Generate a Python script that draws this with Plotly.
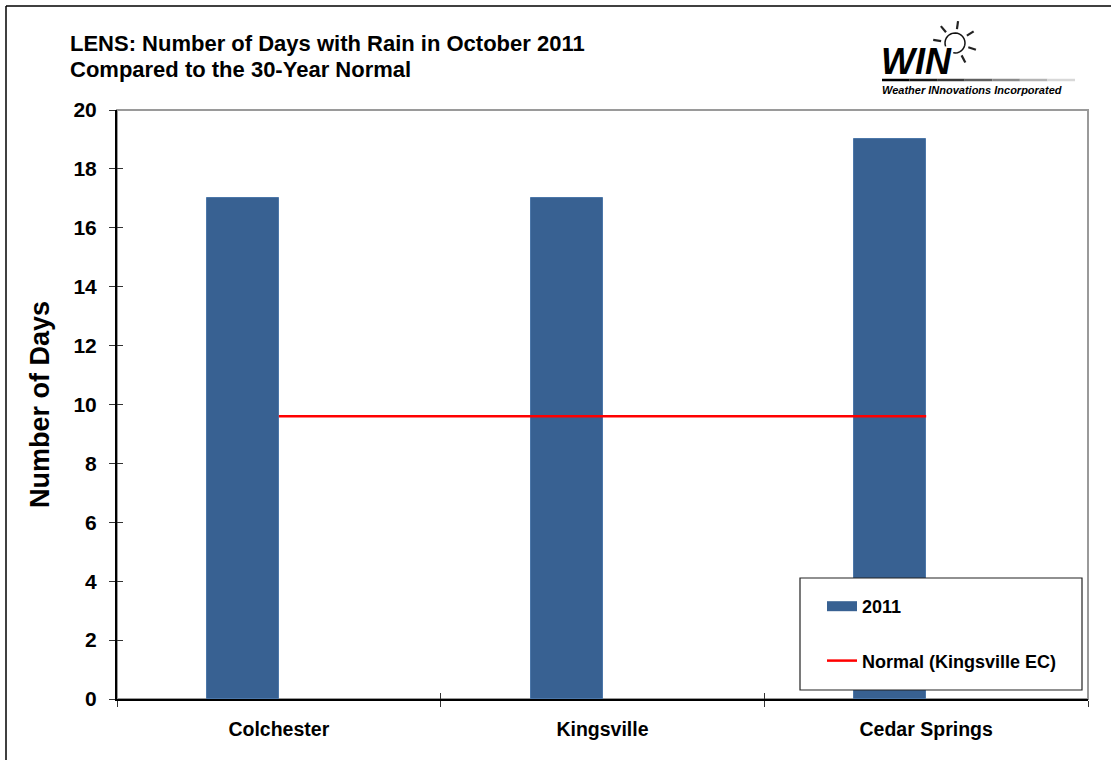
import math
import plotly.graph_objects as go

# ---------------- data ----------------
categories = ["Colchester", "Kingsville", "Cedar Springs"]
days_2011 = [17, 17, 19]
normal_days = [9.6, 9.6, 9.6]
y_ticks = [0, 2, 4, 6, 8, 10, 12, 14, 16, 18, 20]
title_line1 = "LENS: Number of Days with Rain in October 2011"
title_line2 = "Compared to the 30-Year Normal"
series_names = ["2011", "Normal (Kingsville EC)"]
y_title = "Number of Days"
logo_word = "WIN"
logo_sub = "Weather INnovations Incorporated"

# ---------------- geometry helpers (pixel -> paper) ----------------
W, H = 1111, 760
L, R, T, B = 117, 1088, 110, 699


def px(x):
    return (x - L) / (R - L)


def py(y):
    return (B - y) / (B - T)


FONT = "Liberation Sans, Arial, sans-serif"
BAR = "#386192"

fig = go.Figure()
fig.add_bar(
    x=categories, y=days_2011, width=0.2222, offset=-0.2222,
    marker=dict(color=BAR, line=dict(color="#4C77A9", width=1)),
    name=series_names[0], showlegend=False,
)
# legend proxy for the bar series (wide swatch like the original)
fig.add_scatter(x=[None], y=[None], mode="lines", line=dict(color=BAR, width=10),
                name=series_names[0], legendgroup="g1")
fig.add_scatter(x=categories, y=normal_days, mode="lines",
                line=dict(color="#FF0000", width=2.5),
                name=series_names[1], legendgroup="g2")
# invisible trace for the overlay (inner tick) axes
fig.add_scatter(x=[None], y=[None], xaxis="x2", yaxis="y2", showlegend=False,
                hoverinfo="skip")

tickfont_y = dict(family=FONT, size=21, color="black", weight="bold")
tickfont_x = dict(family=FONT, size=19.5, color="black", weight="bold")

shapes = []
# plot-area frame (grey)
shapes.append(dict(type="rect", xref="paper", yref="paper", x0=0, y0=0, x1=1, y1=1,
                   line=dict(color="#9A9A9A", width=2), layer="below"))
# outer chart border (left & top visible)
shapes.append(dict(type="line", xref="paper", yref="paper", x0=px(6), y0=py(6),
                   x1=px(6), y1=py(760), line=dict(color="black", width=1.5)))
shapes.append(dict(type="line", xref="paper", yref="paper", x0=px(6), y0=py(6),
                   x1=px(1111), y1=py(6), line=dict(color="black", width=1.5)))
# legend box
shapes.append(dict(type="rect", xref="paper", yref="paper", x0=px(800), y0=py(578),
                   x1=px(1082), y1=py(690), fillcolor="white",
                   line=dict(color="#222222", width=1.2), layer="above"))
# logo underline (fading)
seg_cols = ["#000000", "#1a1a1a", "#3a3a3a", "#606060", "#8a8a8a", "#b4b4b4", "#d8d8d8"]
x_start, x_end = 882, 1075
n = len(seg_cols)
for i, c in enumerate(seg_cols):
    xa = x_start + (x_end - x_start) * i / n
    xb = x_start + (x_end - x_start) * (i + 1) / n
    shapes.append(dict(type="line", xref="paper", yref="paper", x0=px(xa), y0=py(80),
                       x1=px(xb), y1=py(80), line=dict(color=c, width=2.5)))
# logo sun: bulb arc + rays
cx, cy, r = 955, 43, 10
pts = []
for k in range(0, 25):
    ang = math.radians(200 - k * 12.5)
    pts.append((cx + r * math.cos(ang), cy - r * math.sin(ang)))
path = "M " + " L ".join(f"{px(a):.5f},{py(b):.5f}" for a, b in pts)
shapes.append(dict(type="path", xref="paper", yref="paper", path=path,
                   line=dict(color="#111111", width=1.5)))
for deg in [82, 130, 172, 32, -18, -62]:
    a = math.radians(deg)
    r0, r1 = 14, 22
    shapes.append(dict(type="line", xref="paper", yref="paper",
                       x0=px(cx + r0 * math.cos(a)), y0=py(cy - r0 * math.sin(a)),
                       x1=px(cx + r1 * math.cos(a)), y1=py(cy - r1 * math.sin(a)),
                       line=dict(color="#222222", width=2.2)))

annotations = [
    dict(text=title_line1, xref="paper", yref="paper", x=px(68), y=py(29),
         xanchor="left", yanchor="top", showarrow=False,
         font=dict(family=FONT, size=22, color="black", weight="bold")),
    dict(text=title_line2, xref="paper", yref="paper", x=px(68), y=py(55),
         xanchor="left", yanchor="top", showarrow=False,
         font=dict(family=FONT, size=22, color="black", weight="bold")),
    dict(text=f"<i>{logo_word}</i>", xref="paper", yref="paper", x=px(879), y=py(62),
         xanchor="left", yanchor="middle", showarrow=False,
         font=dict(family=FONT, size=36, color="black", weight="bold")),
    dict(text=f"<i>{logo_sub}</i>", xref="paper", yref="paper", x=px(880), y=py(90),
         xanchor="left", yanchor="middle", showarrow=False,
         font=dict(family=FONT, size=11, color="black", weight="bold")),
]

fig.update_layout(
    width=W, height=H,
    margin=dict(l=L, r=W - R, t=T, b=H - B, pad=0),
    paper_bgcolor="white", plot_bgcolor="white",
    bargap=0,
    showlegend=True,
    legend=dict(x=px(822), y=py(588), xanchor="left", yanchor="top",
                bgcolor="rgba(0,0,0,0)", borderwidth=0, tracegroupgap=28,
                itemwidth=30,
                font=dict(family=FONT, size=18, color="black", weight="bold")),
    xaxis=dict(type="category", categoryorder="array", categoryarray=categories,
               range=[-0.5, 2.5], showline=True, linecolor="black", linewidth=2,
               ticks="outside", tickson="boundaries", ticklen=6, tickwidth=1,
               tickcolor="#333333", tickfont=tickfont_x, showgrid=False,
               zeroline=False, ticklabelstandoff=12),
    xaxis2=dict(overlaying="x", anchor="y", range=[-0.5, 2.5],
                tickvals=[-0.5, 0.5, 1.5, 2.5], ticks="inside", ticklen=6,
                tickwidth=1, tickcolor="#333333", showticklabels=False,
                showline=False, showgrid=False, zeroline=False),
    yaxis=dict(range=[0, 20], tickvals=y_ticks, showline=True, linecolor="black",
               linewidth=2, ticks="outside", ticklen=6, tickwidth=1,
               tickcolor="#333333", tickfont=tickfont_y, showgrid=False,
               zeroline=False, ticklabelstandoff=8,
               title=dict(text=y_title, standoff=16,
                          font=dict(family=FONT, size=27, color="black", weight="bold"))),
    yaxis2=dict(overlaying="y", anchor="x", side="left", range=[0, 20],
                tickvals=y_ticks, ticks="inside", ticklen=6, tickwidth=1,
                tickcolor="#333333", showticklabels=False, showline=False,
                showgrid=False, zeroline=False),
    shapes=shapes,
    annotations=annotations,
)

fig.write_html("out.html", config={"displayModeBar": False},
               post_script="document.body.style.margin='0';document.body.style.padding='0';")
